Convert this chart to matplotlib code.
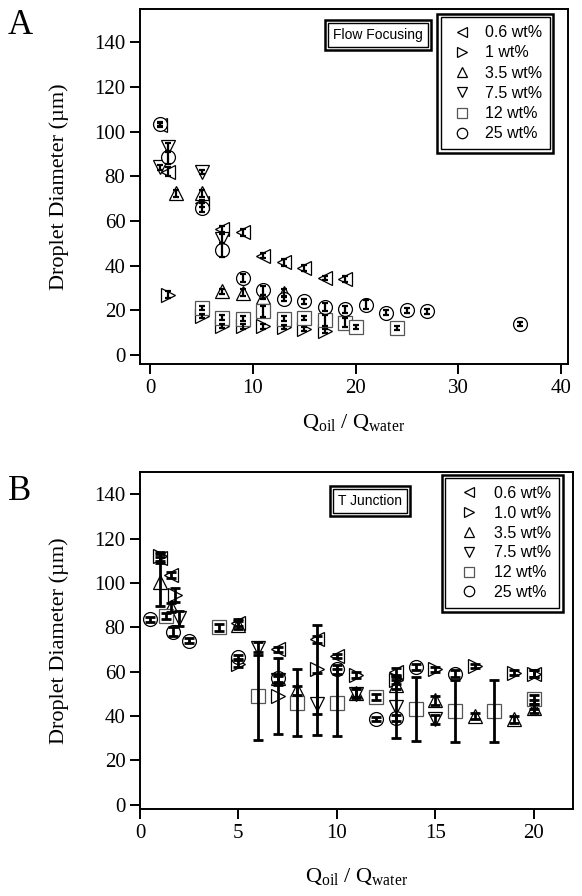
"""Droplet diameter vs flow-rate ratio: flow focusing (A) and T junction (B)."""
import matplotlib
matplotlib.use('Agg')
import matplotlib.pyplot as plt
from matplotlib.patches import Rectangle

plt.rcParams['font.family'] = 'Liberation Serif'
plt.rcParams['mathtext.fontset'] = 'custom'
plt.rcParams['mathtext.rm'] = 'Liberation Serif'
plt.rcParams['mathtext.it'] = 'Liberation Serif:italic'

# ---- Panel A: flow focusing ----
A_labels = ['0.6 wt%', '1 wt%', '3.5 wt%', '7.5 wt%', '12 wt%', '25 wt%']
A_q_06 = [1, 1.7, 5, 7, 9, 11, 13, 15, 17, 19]
A_d_06 = [103, 82, 68, 56.5, 55, 44.5, 41.5, 39, 34.5, 34]
A_e_06 = [1, 2, 1.5, 1.5, 1.5, 1, 1.5, 1.5, 1, 1.5]
A_q_1 = [1.7, 5, 7, 9, 11, 13, 15, 17]
A_d_1 = [27, 17.5, 13, 12.8, 12.8, 12.5, 11.7, 10.7]
A_e_1 = [1.5, 1, 1, 1, 1, 1, 1, 1]
A_q_35 = [2.5, 5, 7, 9, 11, 13]
A_d_35 = [72.5, 72.5, 28.5, 28, 26, 28]
A_e_35 = [1.5, 1.5, 1, 1.5, 1, 1.5]
A_q_75 = [1, 1.7, 5, 7]
A_d_75 = [84, 93, 82, 52]
A_e_75 = [1, 2, 1, 2]
A_q_12 = [5, 7, 9, 11, 13, 15, 17, 19, 20, 24]
A_d_12 = [21, 16.8, 16.3, 19.5, 16.3, 16.5, 15.5, 14.5, 12.5, 12]
A_e_12 = [1, 1, 1, 2.5, 1, 1, 2.5, 2, 1, 1]
A_q_25 = [1, 1.7, 5, 7, 9, 11, 13, 15, 17, 19, 21, 23, 25, 27, 36]
A_d_25 = [103.5, 88.5, 66, 47, 34.5, 29, 25, 24, 21.5, 20.5, 22.5, 19, 20, 19.5, 14]
A_e_25 = [1, 3, 2, 3, 2, 2, 1, 1, 2, 1.5, 2, 1, 1, 1, 1]

# ---- Panel B: T junction ----
B_labels = ['0.6 wt%', '1.0 wt%', '3.5 wt%', '7.5 wt%', '12 wt%', '25 wt%']
B_q_06 = [1, 1.6, 5, 7, 9, 10, 13, 20]
B_d_06 = [111, 103.5, 82, 70, 74.5, 67, 60, 59]
B_e_06 = [2, 1.5, 1.5, 1, 1.5, 1, 1.5, 1.5]
B_q_1 = [1, 1.8, 5, 7, 9, 11, 13, 15, 17, 19, 20]
B_d_1 = [112, 94.5, 63.5, 49, 61, 58.5, 56, 61, 62.5, 59.5, 59]
B_e_1 = [2, 3, 1.5, 17, 20, 1.5, 1.5, 1, 1, 1, 1.5]
B_q_35 = [1, 1.6, 5, 7, 8, 11, 13, 15, 17, 19, 20]
B_d_35 = [100.5, 89, 81, 57, 51.5, 50.5, 54, 47, 40, 38.5, 43.5]
B_e_35 = [11, 2, 2, 2, 2, 2, 2, 2, 1.5, 1.5, 2]
B_q_75 = [2, 6, 7, 9, 11, 13, 15, 20]
B_d_75 = [84, 70.5, 56, 45.5, 50, 44, 38.5, 45]
B_e_75 = [3.5, 3, 2, 14, 2, 14, 2, 2]
B_q_12 = [1.3, 4, 6, 8, 10, 12, 14, 16, 18, 20]
B_d_12 = [85, 80, 49, 46, 46, 48.5, 43, 42, 42, 47.5]
B_e_12 = [1.5, 1.5, 20, 15, 15, 1.5, 14.5, 14, 14, 2]
B_q_25 = [0.5, 1.7, 2.5, 5, 7, 10, 12, 13, 14, 16]
B_d_25 = [83.5, 78, 74, 66.5, 57, 61, 38.5, 39, 62, 59]
B_e_25 = [1, 2, 1, 1, 1.5, 2, 1, 1.5, 1.5, 1.5]

MARKERS = ['<', '>', '^', 'v', 's', 'o']
EDGES = ['black', 'black', 'black', 'black', '#555555', 'black']

fig = plt.figure(figsize=(5.82, 8.96), dpi=100)
axA = fig.add_axes([0.2405, 0.5938, 0.7354, 0.3962])
axB = fig.add_axes([0.2405, 0.0971, 0.744, 0.3761])


def draw_panel(ax, series, labels, capsize, elw):
    for (q, d, e), m, ec, lab in zip(series, MARKERS, EDGES, labels):
        ax.plot(q, d, ls='none', marker=m, ms=10, mfc='white', mec=ec, mew=0.9,
                label=lab, zorder=3)
        ax.errorbar(q, d, yerr=e, fmt='none', ecolor='black', elinewidth=elw,
                    capsize=capsize, capthick=elw, zorder=4)
    for side in ['top', 'right', 'left', 'bottom']:
        ax.spines[side].set_linewidth(1.4)
    ax.tick_params(direction='out', length=7, width=1.4, labelsize=15,
                   top=False, right=False)
    ax.set_ylabel('Droplet Diameter (µm)', fontsize=16)
    ax.set_xlabel(r'$\mathrm{Q_{oil}}$ / $\mathrm{Q_{water}}$', fontsize=16)
    ax.xaxis.label.set_va('top')


draw_panel(axA, [(A_q_06, A_d_06, A_e_06), (A_q_1, A_d_1, A_e_1),
                 (A_q_35, A_d_35, A_e_35), (A_q_75, A_d_75, A_e_75),
                 (A_q_12, A_d_12, A_e_12), (A_q_25, A_d_25, A_e_25)],
           A_labels, 2.5, 1.6)
draw_panel(axB, [(B_q_06, B_d_06, B_e_06), (B_q_1, B_d_1, B_e_1),
                 (B_q_35, B_d_35, B_e_35), (B_q_75, B_d_75, B_e_75),
                 (B_q_12, B_d_12, B_e_12), (B_q_25, B_d_25, B_e_25)],
           B_labels, 3.5, 2.0)

axA.set_xlim(-1, 40.7)
axA.set_ylim(-4, 155)
axA.set_xticks([0, 10, 20, 30, 40])
axA.set_yticks(range(0, 141, 20))
axB.set_xlim(0, 22)
axB.set_ylim(-2, 150)
axB.set_xticks([0, 5, 10, 15, 20])
axB.set_yticks(range(0, 141, 20))

for ax, ybot in [(axA, -0.135), (axB, -0.17)]:
    ax.yaxis.set_label_coords(-0.165, 0.5)
    ax.xaxis.set_label_coords(0.5, ybot)

legA = axA.legend(loc='upper right', bbox_to_anchor=(0.958, 0.977), borderaxespad=0,
                  frameon=True, fancybox=False, edgecolor='black', framealpha=1,
                  prop={'family': 'Liberation Sans', 'size': 11.5},
                  markerscale=0.75, handlelength=1.6, handletextpad=0.65,
                  labelspacing=0.33, borderpad=0.5)
legB = axB.legend(loc='upper right', bbox_to_anchor=(0.968, 0.982), borderaxespad=0,
                  frameon=True, fancybox=False, edgecolor='black', framealpha=1,
                  prop={'family': 'Liberation Sans', 'size': 11.5},
                  markerscale=0.75, handlelength=2.0, handletextpad=0.56,
                  labelspacing=0.3, borderpad=0.5)
for leg in (legA, legB):
    leg.get_frame().set_linewidth(1.0)
    leg.set_zorder(6)

tA = axA.text(0.556, 0.927, 'Flow Focusing', transform=axA.transAxes,
              ha='center', va='center', family='Liberation Sans', fontsize=10,
              bbox=dict(boxstyle='square,pad=0.35', fc='white', ec='black', lw=1.0),
              zorder=6)
tB = axB.text(0.531, 0.914, 'T Junction', transform=axB.transAxes,
              ha='center', va='center', family='Liberation Sans', fontsize=10,
              bbox=dict(boxstyle='square,pad=0.35', fc='white', ec='black', lw=1.0),
              zorder=6)

fig.text(0.034, 0.971, 'A', fontsize=25, ha='center', va='center')
fig.text(0.034, 0.451, 'B', fontsize=25, ha='center', va='center')

# outer line of the double frames
fig.canvas.draw()
inv = fig.transFigure.inverted()


def double_frame(bb, pad=3.5, lw=1.8):
    (x0, y0), (x1, y1) = inv.transform([(bb.x0 - pad, bb.y0 - pad),
                                        (bb.x1 + pad, bb.y1 + pad)])
    fig.add_artist(Rectangle((x0, y0), x1 - x0, y1 - y0, transform=fig.transFigure,
                             fill=False, ec='black', lw=lw, zorder=7))


r = fig.canvas.get_renderer()
double_frame(legA.get_window_extent(r))
double_frame(legB.get_window_extent(r))
double_frame(tA.get_bbox_patch().get_window_extent(r), pad=3)
double_frame(tB.get_bbox_patch().get_window_extent(r), pad=3)

fig.savefig('out.png', dpi=100)
